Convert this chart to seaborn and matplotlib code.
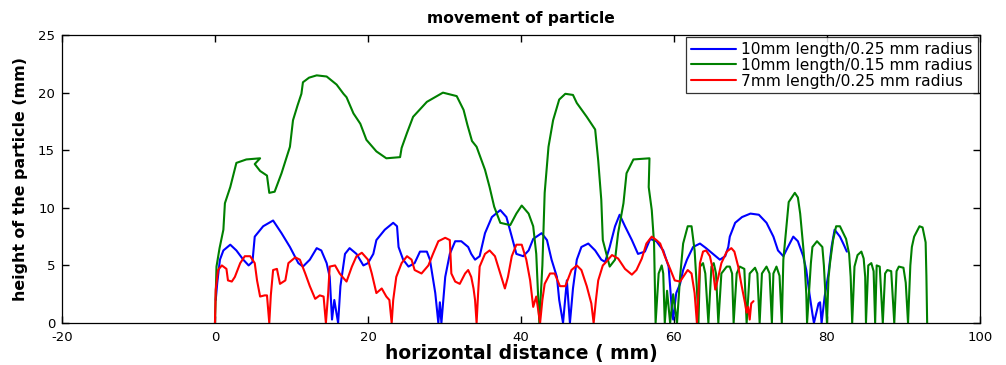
import matplotlib
matplotlib.use('Agg')

import matplotlib.pyplot as plt
import pandas as pd
import seaborn as sns

# (x in mm, y in mm)
blue_x = [0.1, 0.3, 0.65, 1.1, 2.0, 2.8, 3.7, 4.4, 4.9, 5.2, 6.3, 7.6, 8.7, 9.8, 10.9, 11.5,
          12.4, 13.3, 13.9, 14.6, 15.0, 15.3, 15.6, 16.1, 16.4, 17.0, 17.6, 18.5, 19.4, 20.0,
          20.7, 21.1, 22.2, 23.3, 23.8, 24.0, 24.6, 25.3, 26.1, 26.8, 27.7, 28.1, 28.8, 29.2,
          29.4, 29.6, 30.1, 30.7, 31.4, 32.2, 33.1, 33.5, 34.0, 34.6, 35.3, 36.2, 37.3, 38.1,
          38.8, 39.4, 40.3, 41.0, 41.6, 42.7, 43.4, 44.0, 44.7, 45.0, 45.5, 46.0, 46.4, 46.8,
          47.3, 47.9, 48.8, 49.7, 50.5, 51.0, 51.6, 52.3, 52.9, 53.6, 54.5, 55.3, 56.2, 56.9,
          57.7, 58.6, 59.3, 59.5, 59.7, 59.9, 60.1, 60.3, 60.8, 61.2, 61.7, 62.5, 63.4, 64.2,
          65.1, 66.0, 66.7, 67.1, 67.3, 68.0, 68.9, 70.0, 71.1, 72.1, 73.0, 73.6, 74.3, 74.9,
          75.6, 76.2, 76.9, 77.3, 77.7, 78.1, 78.3, 78.9, 79.1, 79.3, 79.7, 80.2, 80.6, 81.0,
          81.7, 82.2, 82.6]
blue_y = [2.0, 3.5, 5.5, 6.3, 6.8, 6.3, 5.5, 5.0, 5.3, 7.5, 8.4, 8.9, 7.8, 6.6, 5.2, 4.9,
          5.5, 6.5, 6.3, 5.2, 4.0, 0.3, 2.0, 0.0, 3.2, 6.0, 6.5, 6.0, 5.0, 5.2,
          6.0, 7.2, 8.1, 8.7, 8.4, 6.6, 5.5, 4.9, 5.2, 6.2, 6.2, 5.5, 2.6, 0.0,
          1.8, 0.0, 4.0, 6.0, 7.1, 7.1, 6.6, 6.0, 5.5, 5.8, 7.8, 9.2, 9.8, 9.2,
          7.5, 6.0, 5.8, 6.3, 7.3, 7.8, 7.2, 5.5, 4.0, 2.0, 0.0, 3.7, 0.0, 3.0,
          5.5, 6.6, 6.9, 6.3, 5.5, 5.3, 6.6, 8.4, 9.4, 8.4, 7.2, 6.0, 6.2, 7.3,
          7.1, 6.3, 4.9, 3.2, 1.4, 0.3, 1.5, 2.6, 3.4, 4.6, 5.5, 6.6, 6.9, 6.5,
          6.0, 5.5, 5.8, 6.6, 7.5, 8.7, 9.2, 9.5, 9.4, 8.7, 7.5, 6.3, 5.8, 6.6,
          7.5, 7.1, 5.8, 4.6, 2.6, 0.8, 0.0, 1.7, 1.8, 0.0, 2.3, 4.3, 6.6, 8.1,
          7.5, 6.8, 6.2]

green_x = [0.0, 0.1, 0.2, 0.6, 1.1, 1.3, 2.0, 2.8, 4.1, 5.9, 5.2, 5.9, 6.8, 7.1, 7.8, 8.7,
           9.8, 10.2, 10.8, 11.3, 11.5, 12.3, 13.3, 14.6, 15.9, 16.8, 17.2, 18.1, 19.0, 19.8,
           21.1, 22.4, 24.2, 24.4, 25.1, 25.9, 27.7, 29.8, 31.6, 32.5, 33.0, 33.6, 34.2, 35.3,
           35.9, 36.5, 37.3, 38.6, 39.4, 40.1, 41.0, 41.6, 42.0, 42.2, 42.4, 42.8, 43.1, 43.6,
           44.2, 45.0, 45.8, 46.8, 47.3, 48.6, 49.7, 50.1, 50.5, 50.7, 51.6, 52.3, 52.7, 53.4,
           53.8, 54.7, 56.8, 56.7, 57.1, 57.4, 57.6, 58.0, 58.4, 58.6, 58.8, 59.1, 59.5, 59.9,
           60.4, 60.8, 61.2, 61.8, 62.3, 62.7, 63.0, 63.2, 63.4, 63.8, 64.1, 64.5, 64.9, 65.2,
           65.5, 65.8, 66.2, 66.9, 67.3, 67.6, 67.8, 68.2, 68.6, 69.2, 69.5, 69.9, 70.6, 70.9,
           71.2, 71.5, 72.1, 72.5, 72.8, 73.0, 73.4, 73.8, 74.1, 74.3, 74.7, 75.0, 75.8, 76.2,
           76.5, 76.7, 76.9, 77.1, 77.3, 77.4, 77.9, 78.1, 78.7, 79.4, 79.6, 79.8, 80.0, 80.2,
           80.4, 80.8, 81.2, 81.7, 82.5, 82.9, 83.1, 83.3, 83.6, 84.0, 84.5, 84.8, 85.0, 85.1,
           85.4, 85.8, 86.1, 86.3, 86.5, 86.9, 87.3, 87.6, 87.9, 88.4, 88.8, 89.1, 89.4, 90.0,
           90.3, 90.6, 90.9, 91.1, 91.4, 92.1, 92.5, 92.9, 93.0, 93.1]
green_y = [0.0, 2.5, 4.9, 6.5, 8.1, 10.4, 11.8, 13.9, 14.2, 14.3, 13.8, 13.2, 12.8, 11.3, 11.4, 13.0,
           15.3, 17.6, 18.9, 19.9, 20.9, 21.3, 21.5, 21.4, 20.7, 19.9, 19.6, 18.2, 17.3, 15.9,
           14.9, 14.3, 14.4, 15.2, 16.5, 17.9, 19.2, 20.0, 19.7, 18.5, 17.2, 15.8, 15.3, 13.3,
           11.8, 10.1, 8.7, 8.5, 9.5, 10.2, 9.5, 8.4, 6.0, 3.0, 0.0, 5.0, 11.3, 15.3,
           17.6, 19.4, 19.9, 19.8, 19.1, 17.9, 16.8, 14.1, 10.7, 7.2, 4.9, 5.5, 7.8, 10.4,
           13.0, 14.2, 14.3, 11.8, 9.8, 6.9, 0.0, 4.3, 5.0, 4.3, 0.0, 2.8, 0.0, 2.5,
           0.0, 4.0, 6.9, 8.4, 8.4, 6.3, 3.0, 0.0, 4.9, 5.2, 4.3, 0.0, 4.9, 5.2,
           4.3, 0.0, 4.3, 4.9, 4.9, 4.3, 0.0, 4.3, 4.9, 4.7, 0.0, 4.3, 4.8, 4.3,
           0.0, 4.3, 4.9, 4.3, 0.0, 4.3, 4.9, 4.1, 0.0, 5.5, 8.4, 10.5, 11.3, 10.9,
           9.5, 8.1, 6.6, 4.9, 2.5, 0.0, 5.2, 6.6, 7.1, 6.6, 5.0, 2.5, 0.0, 3.9,
           5.2, 7.2, 8.4, 8.4, 7.3, 6.0, 4.0, 0.0, 4.9, 5.9, 6.2, 5.6, 4.0, 0.0,
           5.0, 5.2, 4.5, 0.0, 5.0, 4.9, 0.0, 4.3, 4.6, 4.5, 0.0, 4.5, 4.9, 4.8,
           3.5, 0.0, 5.0, 6.6, 7.5, 8.4, 8.3, 7.0, 4.1, 0.0]

red_x = [0.0, 0.1, 0.4, 0.9, 1.5, 1.7, 2.2, 2.6, 3.3, 3.9, 4.6, 5.2, 5.5, 5.9, 6.5, 6.8,
         7.1, 7.3, 7.6, 8.1, 8.5, 9.2, 9.6, 10.5, 11.1, 11.8, 12.4, 13.1, 13.7, 14.2, 14.5,
         14.8, 15.0, 15.7, 16.3, 16.8, 17.2, 17.9, 18.5, 19.2, 20.0, 20.5, 21.1, 21.8, 22.4,
         22.8, 23.1, 23.3, 23.7, 24.4, 25.1, 25.7, 26.1, 27.0, 27.9, 28.5, 29.2, 30.1, 30.7,
         30.9, 31.4, 32.0, 32.7, 33.1, 33.5, 33.8, 34.0, 34.2, 34.4, 34.6, 35.3, 35.9, 36.6,
         37.3, 37.9, 38.3, 38.8, 39.4, 40.1, 40.7, 41.2, 41.6, 42.0, 42.3, 42.5, 42.8, 43.1,
         43.8, 44.4, 45.1, 45.8, 46.2, 46.6, 47.3, 47.9, 48.6, 49.2, 49.5, 49.8, 50.1, 50.7,
         51.0, 51.9, 52.7, 53.6, 54.5, 55.1, 55.8, 56.4, 57.1, 57.7, 58.2, 58.8, 59.5, 60.1,
         60.8, 61.4, 61.8, 62.3, 62.7, 63.0, 63.2, 63.4, 63.8, 64.2, 64.7, 65.1, 65.4, 65.8,
         66.2, 66.9, 67.5, 67.9, 68.4, 68.8, 69.3, 69.5, 69.7, 69.9, 70.1, 70.4]
red_y = [0.0, 2.9, 4.6, 5.0, 4.7, 3.7, 3.6, 4.0, 5.2, 5.8, 5.8, 5.2, 3.7, 2.3, 2.4, 2.4,
         0.0, 2.4, 4.6, 4.7, 3.4, 3.7, 5.2, 5.7, 5.5, 4.3, 3.2, 2.1, 2.4, 2.3, 0.0,
         2.6, 4.9, 5.0, 4.3, 3.9, 3.6, 4.9, 5.8, 6.1, 5.5, 4.3, 2.6, 3.0, 2.3,
         2.0, 0.0, 2.0, 4.0, 5.2, 5.8, 5.5, 4.6, 4.3, 5.0, 6.0, 7.1, 7.4, 7.2,
         4.3, 3.6, 3.4, 4.3, 4.6, 4.0, 3.0, 2.0, 0.0, 2.6, 4.9, 6.0, 6.3, 5.8,
         4.3, 3.0, 4.0, 5.8, 6.8, 6.8, 5.5, 3.7, 1.4, 2.3, 0.9, 0.0, 2.0, 3.4,
         4.3, 4.3, 3.2, 3.2, 3.9, 4.6, 5.0, 4.6, 3.2, 1.7, 0.0, 2.0, 3.7, 5.0,
         5.2, 5.9, 5.6, 4.7, 4.2, 4.6, 5.6, 6.9, 7.5, 7.2, 6.9, 5.8, 4.7, 3.7,
         3.6, 4.2, 4.6, 4.3, 2.6, 0.0, 2.6, 5.2, 6.2, 6.3, 5.8, 4.6, 2.9, 4.0,
         5.2, 6.2, 6.5, 6.2, 4.9, 3.4, 1.7, 0.9, 1.4, 0.3, 1.7, 1.9]

labels = ["10mm length/0.25 mm radius",
          "10mm length/0.15 mm radius",
          "7mm length/0.25 mm radius"]

df = pd.concat([
    pd.DataFrame({"x": blue_x, "y": blue_y, "series": labels[0]}),
    pd.DataFrame({"x": green_x, "y": green_y, "series": labels[1]}),
    pd.DataFrame({"x": red_x, "y": red_y, "series": labels[2]}),
], ignore_index=True)

sns.set_style("white")
plt.rcParams['font.family'] = ['DejaVu Sans']
plt.rcParams['axes.unicode_minus'] = False
plt.rcParams['text.color'] = 'black'
plt.rcParams['axes.labelcolor'] = 'black'

fig = plt.figure(figsize=(10.06, 3.65), dpi=100)
ax = fig.add_axes([0.0616, 0.115, 0.9125, 0.789])

sns.lineplot(
    data=df, x="x", y="y", hue="series",
    palette={labels[0]: "#0000ff", labels[1]: "#008000", labels[2]: "#ff0000"},
    sort=False, estimator=None, linewidth=1.5, ax=ax
)

ax.set_xlim(-20, 100)
ax.set_ylim(0, 25)
ax.set_xticks(range(-20, 101, 20))
ax.set_yticks(range(0, 26, 5))
ax.tick_params(direction="in", bottom=True, left=True, top=True, right=True,
               length=5, width=1.0, labelsize=9.5, colors="black")
ax.tick_params(axis="x", pad=6)
ax.tick_params(axis="y", pad=5)
for s in ax.spines.values():
    s.set_color("black")
    s.set_linewidth(0.9)

ax.set_xlabel("horizontal distance ( mm)", fontsize=13.5, fontweight="bold", labelpad=0)
ax.set_ylabel("height of the particle (mm)", fontsize=11.4, fontweight="bold", labelpad=7)
ax.set_title("movement of particle", fontsize=11.2, fontweight="bold", pad=9)

leg = ax.legend(loc="upper right", fontsize=11.2, handlelength=2.9, frameon=True,
                fancybox=False, borderaxespad=0.15, labelspacing=0.05,
                borderpad=0.3, handletextpad=0.35)
leg.get_frame().set_edgecolor("black")
leg.get_frame().set_linewidth(0.9)
for t in leg.get_texts():
    t.set_color("black")

plt.savefig("out.png", dpi=100)
plt.close()
